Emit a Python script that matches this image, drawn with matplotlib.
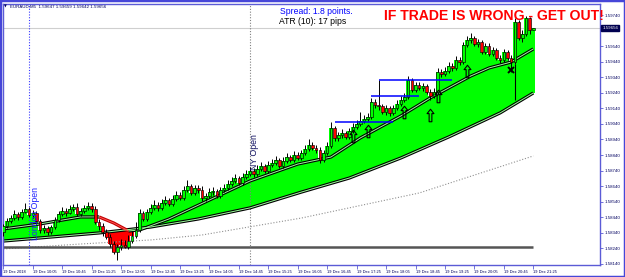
import matplotlib
matplotlib.use("Agg")
import matplotlib.pyplot as plt
import matplotlib.transforms as mtransforms
from matplotlib.patches import Polygon, Rectangle
from matplotlib.path import Path

plt.rcParams['font.family'] = ['Liberation Sans', 'DejaVu Sans']

# ---------------- data ----------------
symbol = "EURAUD,M5"
first_open = 1.58345
closes = [
    1.58384, 1.58416, 1.58435, 1.58461, 1.58442, 1.58474, 1.58493, 1.58455, 1.58467, 1.58416,
    1.58358, 1.58371, 1.58345, 1.58377, 1.58422, 1.58461, 1.58480, 1.58467, 1.58493, 1.58506,
    1.58461, 1.58480, 1.58500, 1.58512, 1.58493, 1.58410, 1.58384, 1.58345, 1.58313, 1.58268,
    1.58217, 1.58249, 1.58262, 1.58249, 1.58287, 1.58320, 1.58358, 1.58467, 1.58429, 1.58474,
    1.58500, 1.58519, 1.58500, 1.58532, 1.58551, 1.58525, 1.58557, 1.58583, 1.58564, 1.58615,
    1.58641, 1.58596, 1.58628, 1.58615, 1.58564, 1.58577, 1.58602, 1.58609, 1.58577, 1.58615,
    1.58628, 1.58654, 1.58673, 1.58692, 1.58660, 1.58699, 1.58718, 1.58737, 1.58718, 1.58750,
    1.58770, 1.58737, 1.58776, 1.58789, 1.58808, 1.58770, 1.58802, 1.58827, 1.58808, 1.58840,
    1.58821, 1.58853, 1.58879, 1.58905, 1.58885, 1.58873, 1.58808, 1.58853, 1.58898, 1.59014,
    1.58950, 1.58969, 1.58982, 1.58956, 1.58995, 1.59021, 1.59040, 1.59059, 1.59072, 1.59085,
    1.59181, 1.59162, 1.59155, 1.59117, 1.59143, 1.59111, 1.59143, 1.59168, 1.59194, 1.59213,
    1.59323, 1.59258, 1.59290, 1.59271, 1.59284, 1.59245, 1.59220, 1.59245, 1.59374, 1.59361,
    1.59381, 1.59413, 1.59400, 1.59451, 1.59438, 1.59548, 1.59580, 1.59593, 1.59554, 1.59567,
    1.59503, 1.59541, 1.59490, 1.59516, 1.59464, 1.59451, 1.59503, 1.59464, 1.59438, 1.59696,
    1.59593, 1.59618, 1.59721, 1.59647, 1.59656]
highs = [
    1.58397, 1.58435, 1.58455, 1.58487, 1.58474, 1.58493, 1.58532, 1.58506, 1.58487, 1.58480,
    1.58429, 1.58390, 1.58384, 1.58390, 1.58442, 1.58480, 1.58506, 1.58500, 1.58519, 1.58525,
    1.58532, 1.58500, 1.58519, 1.58538, 1.58532, 1.58512, 1.58429, 1.58403, 1.58365, 1.58332,
    1.58287, 1.58268, 1.58300, 1.58294, 1.58326, 1.58352, 1.58410, 1.58493, 1.58480, 1.58493,
    1.58525, 1.58551, 1.58538, 1.58557, 1.58577, 1.58564, 1.58583, 1.58609, 1.58602, 1.58641,
    1.58680, 1.58654, 1.58647, 1.58647, 1.58641, 1.58596, 1.58628, 1.58635, 1.58622, 1.58635,
    1.58654, 1.58680, 1.58699, 1.58718, 1.58705, 1.58725, 1.58744, 1.58763, 1.58757, 1.58776,
    1.58795, 1.58782, 1.58802, 1.58815, 1.58834, 1.58821, 1.58827, 1.58853, 1.58840, 1.58866,
    1.58860, 1.58873, 1.58905, 1.58943, 1.58924, 1.58905, 1.58892, 1.58873, 1.58924, 1.59053,
    1.59027, 1.58988, 1.59008, 1.58995, 1.59014, 1.59046, 1.59065, 1.59117, 1.59098, 1.59111,
    1.59207, 1.59200, 1.59323, 1.59168, 1.59162, 1.59155, 1.59162, 1.59194, 1.59220, 1.59239,
    1.59348, 1.59335, 1.59310, 1.59310, 1.59303, 1.59297, 1.59265, 1.59271, 1.59400, 1.59393,
    1.59406, 1.59438, 1.59432, 1.59477, 1.59470, 1.59567, 1.59606, 1.59625, 1.59606, 1.59586,
    1.59580, 1.59561, 1.59561, 1.59535, 1.59528, 1.59483, 1.59522, 1.59516, 1.59483, 1.59721,
    1.59708, 1.59644, 1.59734, 1.59728, 1.59659]
lows = [
    1.58320, 1.58371, 1.58403, 1.58422, 1.58422, 1.58429, 1.58467, 1.58442, 1.58435, 1.58397,
    1.58339, 1.58339, 1.58326, 1.58332, 1.58365, 1.58410, 1.58448, 1.58448, 1.58461, 1.58480,
    1.58448, 1.58448, 1.58467, 1.58487, 1.58474, 1.58397, 1.58358, 1.58320, 1.58300, 1.58249,
    1.58204, 1.58165, 1.58230, 1.58242, 1.58236, 1.58275, 1.58307, 1.58345, 1.58416, 1.58416,
    1.58461, 1.58487, 1.58480, 1.58487, 1.58519, 1.58512, 1.58512, 1.58545, 1.58551, 1.58551,
    1.58602, 1.58583, 1.58583, 1.58596, 1.58545, 1.58545, 1.58564, 1.58583, 1.58564, 1.58564,
    1.58602, 1.58615, 1.58641, 1.58660, 1.58647, 1.58647, 1.58686, 1.58705, 1.58699, 1.58705,
    1.58737, 1.58725, 1.58725, 1.58763, 1.58776, 1.58757, 1.58757, 1.58789, 1.58795, 1.58795,
    1.58808, 1.58808, 1.58840, 1.58866, 1.58873, 1.58853, 1.58789, 1.58795, 1.58840, 1.58885,
    1.58930, 1.58930, 1.58950, 1.58943, 1.58943, 1.58982, 1.59008, 1.59027, 1.59046, 1.59059,
    1.59072, 1.59143, 1.59130, 1.59104, 1.59098, 1.59091, 1.59098, 1.59130, 1.59155, 1.59181,
    1.59200, 1.59245, 1.59245, 1.59258, 1.59252, 1.59233, 1.59194, 1.59207, 1.59233, 1.59342,
    1.59348, 1.59368, 1.59381, 1.59387, 1.59419, 1.59425, 1.59535, 1.59561, 1.59541, 1.59535,
    1.59490, 1.59490, 1.59477, 1.59477, 1.59451, 1.59432, 1.59438, 1.59451, 1.59374, 1.59425,
    1.59580, 1.59567, 1.59606, 1.59618, 1.59642]
opens = [first_open] + closes[:-1]
bars = list(range(len(closes)))

time_label_bars = list(range(0, 145, 8))
time_labels = ["19 Dec 2018", "19 Dec 10:05", "19 Dec 10:45", "19 Dec 11:25",
               "19 Dec 12:05", "19 Dec 12:45", "19 Dec 13:25", "19 Dec 14:05",
               "19 Dec 14:45", "19 Dec 15:25", "19 Dec 16:05", "19 Dec 16:45",
               "19 Dec 17:25", "19 Dec 18:05", "19 Dec 18:45", "19 Dec 19:25",
               "19 Dec 20:05", "19 Dec 20:45", "19 Dec 21:25"]
price_ticks = [1.59740, 1.59540, 1.59440, 1.59340, 1.59240, 1.59140, 1.59040, 1.58940,
               1.58840, 1.58740, 1.58640, 1.58540, 1.58440, 1.58340, 1.58240, 1.58140]
price_tick_labels = ["1.59740", "1.59540", "1.59440", "1.59340", "1.59240", "1.59140",
                     "1.59040", "1.58940", "1.58840", "1.58740", "1.58640", "1.58540",
                     "1.58440", "1.58340", "1.58240", "1.58140"]

fast_bars = [0, 10, 16, 21, 26, 30, 34, 37, 45, 56, 67, 80, 89, 97, 108, 116, 127, 132, 138, 144]
fast_vals = [1.58365, 1.58397, 1.58422, 1.58442, 1.58442, 1.58403, 1.58352, 1.58358, 1.58429,
             1.58551, 1.58673, 1.58782, 1.58827, 1.58950, 1.59091, 1.59207, 1.59348, 1.59400,
             1.59438, 1.59522]
fast_red_from, fast_red_to = 4, 6   # knot indexes of the red (bearish) stretch

lower_bars = [0, 26, 40, 53, 67, 81, 94, 108, 121, 135, 144]
lower_vals = [1.58287, 1.58339, 1.58377, 1.58429, 1.58500, 1.58602, 1.58692, 1.58821,
              1.58956, 1.59111, 1.59239]

slow_bars = [0, 21, 40, 54, 81, 113, 144]
slow_vals = [1.58236, 1.58268, 1.58294, 1.58326, 1.58435, 1.58596, 1.58834]

level_price = 1.58249
bid_price = closes[-1]

res_prices = [1.59053, 1.59220, 1.59323]
res_start = [90, 100, 102]
res_end = [106, 113, 122]

arrow_bars = [95, 99, 109, 116, 118, 126]
arrow_prices = [1.58962, 1.58995, 1.59117, 1.59098, 1.59220, 1.59381]

exit_bar, exit_price = 138, 1.59387
exit_line_bar, exit_line_top, exit_line_bottom = 139, 1.59425, 1.59194

london_bar, ny_bar = 7, 67

# ---------------- figure ----------------
W, H = 625, 277
fig = plt.figure(figsize=(W / 100, H / 100), dpi=100)
fig.patch.set_facecolor('white')
ax = fig.add_axes([3 / W, 12 / H, 597 / W, 261 / H])
ax.set_facecolor('white')
xmin = -0.1
ax.set_xlim(xmin, xmin + 597 / 3.68)
ax.set_ylim(1.58133, 1.59811)

GREEN = '#00ff00'
TOP, BOT = 1.61, 1.57

# step outline of closes
sx, sy = [], []
for b, c in zip(bars, closes):
    sx += [b - 0.5, b + 0.5]
    sy += [c, c]
x_first, x_last = bars[0] - 0.5, bars[-1] + 0.5

lower_pts = list(zip(lower_bars, lower_vals))
above_lower = Polygon([(x_first, lower_vals[0])] + lower_pts +
                      [(x_last, lower_vals[-1]), (x_last, TOP), (x_first, TOP)],
                      closed=True, facecolor=GREEN, edgecolor='none', zorder=1)
below_close = Polygon(list(zip(sx, sy)) + [(x_last, BOT), (x_first, BOT)],
                      closed=True, transform=ax.transData)
ax.add_patch(above_lower)
above_lower.set_clip_path(below_close)

below_lower = Polygon([(x_first, lower_vals[0])] + lower_pts +
                      [(x_last, lower_vals[-1]), (x_last, BOT), (x_first, BOT)],
                      closed=True, facecolor='#ff0000', edgecolor='none', zorder=1)
above_close = Polygon(list(zip(sx, sy)) + [(x_last, TOP), (x_first, TOP)],
                      closed=True, transform=ax.transData)
ax.add_patch(below_lower)
below_lower.set_clip_path(above_close)

# slow dotted MA and level line
ax.plot(slow_bars, slow_vals, color='#909090', lw=0.8, ls=(0, (1, 1.6)), zorder=1.5)
ax.hlines(level_price, -1, bars[-1], color='#555555', lw=1.8, zorder=1.5)
ax.axhline(bid_price, color='#cfcfcf', lw=0.8, zorder=0.5)

# session lines
ax.axvline(london_bar, color='#3a3aff', lw=0.8, ls=(0, (1, 1.5)), zorder=1.6)
ax.axvline(ny_bar, color='#808080', lw=0.8, ls=(0, (1, 1.5)), zorder=1.6)

# double lines (lower band and fast MA)
def double_line(x, y, outer, inner, z):
    ax.plot(x, y, color=outer, lw=2.3, zorder=z, solid_capstyle='butt')
    ax.plot(x, y, color=inner, lw=0.7, zorder=z + 0.01, solid_capstyle='butt')

double_line(lower_bars, lower_vals, 'black', '#9dff9d', 2)
double_line(fast_bars[:fast_red_from + 1], fast_vals[:fast_red_from + 1], 'black', '#9dff9d', 2)
double_line(fast_bars[fast_red_to:], fast_vals[fast_red_to:], 'black', '#9dff9d', 2)
double_line(fast_bars[fast_red_from:fast_red_to + 1], fast_vals[fast_red_from:fast_red_to + 1],
            '#c00000', '#ff5050', 2)

# candles
ax.vlines(bars, lows, highs, color='black', lw=0.7, zorder=3)
bottoms = [min(o, c) for o, c in zip(opens, closes)]
heights = [max(abs(c - o), 0.000008) for o, c in zip(opens, closes)]
colors = [GREEN if c >= o else '#ff0000' for o, c in zip(opens, closes)]
ax.bar(bars, heights, bottom=bottoms, width=0.7, color=colors, edgecolor='black',
       linewidth=0.45, zorder=4)

# resistance lines
ax.hlines(res_prices, res_start, res_end, color='#0000ff', lw=1.1, zorder=5)

# hollow up arrows
arrow_path = Path([(0, 1), (0.55, 0.3), (0.22, 0.3), (0.22, -1), (-0.22, -1),
                   (-0.22, 0.3), (-0.55, 0.3), (0, 1)],
                  [Path.MOVETO] + [Path.LINETO] * 6 + [Path.CLOSEPOLY])
ax.plot(arrow_bars, arrow_prices, ls='none', marker=arrow_path, ms=9,
        mfc='none', mec='black', mew=0.8, zorder=6)

# exit mark
ax.plot([exit_bar], [exit_price], ls='none', marker='x', ms=4.5, mew=1.4,
        color='black', zorder=6)
ax.vlines(exit_line_bar, exit_line_bottom, exit_line_top, color='black', lw=0.8, zorder=6)

# session texts
ax.text(london_bar + 1.7, 1.58294, 'London Open', rotation=90, color='#2020ff',
        fontsize=6.3, ha='center', va='bottom', zorder=7)
ax.text(ny_bar + 1.3, 1.58744, 'NY Open', rotation=90, color='#101060',
        fontsize=6.3, ha='center', va='bottom', zorder=3.5)

# axes styling
AXC = '#5b5bd6'
for s in ax.spines.values():
    s.set_color(AXC)
    s.set_linewidth(1.0)
ax.yaxis.tick_right()
ax.set_yticks(price_ticks, price_tick_labels)
ax.set_xticks(time_label_bars, time_labels)
ax.tick_params(axis='y', length=2, width=0.6, color=AXC, labelsize=3.2,
               labelcolor='#000060', pad=1.5)
ax.tick_params(axis='x', length=3, width=0.6, color=AXC, labelsize=2.9,
               labelcolor='#000060', pad=0.8)
for lbl in ax.get_xticklabels():
    lbl.set_horizontalalignment('left')

# current price box
trans = mtransforms.blended_transform_factory(ax.transAxes, ax.transData)
ax.text(1.004, bid_price, f"{bid_price:.5f}", transform=trans, fontsize=3.2,
        color='white', ha='left', va='center', zorder=8, clip_on=False,
        bbox=dict(facecolor='#000050', edgecolor='#000050', pad=0.8))

# header and annotations
header = f"{symbol}  {opens[-1]:.5f} {highs[-1]:.5f} {lows[-1]:.5f} {closes[-1]:.5f}"
fig.text(10 / W, 1 - 7 / H, header, fontsize=3.2, color='#000060', va='center')
fig.text(4.2 / W, 1 - 7 / H, '\u25bc', fontsize=2.6, color='#000060', va='center',
         family=['DejaVu Sans'])
fig.text(280 / W, 1 - 13.5 / H, 'Spread: 1.8 points.', fontsize=6.2, color='#0000ff',
         va='baseline')
fig.text(279 / W, 1 - 23.5 / H, 'ATR (10): 17 pips', fontsize=6.2, color='black',
         va='baseline')
fig.text(384 / W, 1 - 20 / H, 'IF TRADE IS WRONG - GET OUT!', fontsize=10.1,
         fontweight='bold', color='#ff0000', va='baseline')

# window frame
fig.add_artist(Rectangle((0, 0), 1, 1, transform=fig.transFigure, fill=False,
                         edgecolor='#4646d8', lw=2.5))

fig.savefig('out.png', dpi=100)
